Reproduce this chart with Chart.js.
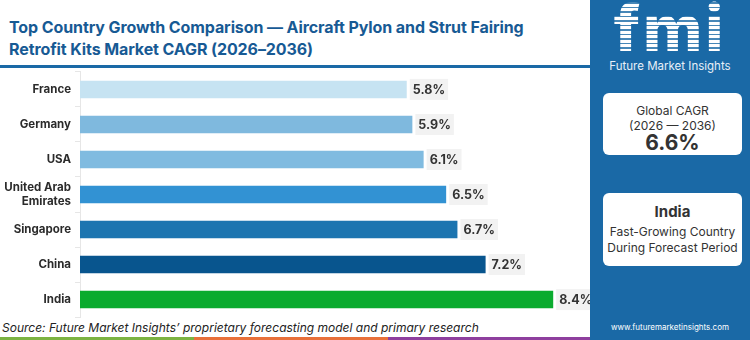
<!DOCTYPE html>
<html>
<head>
<meta charset="utf-8">
<script src="https://cdn.jsdelivr.net/npm/chart.js@4"></script>
<style>
  body { margin: 0; width: 750px; height: 340px; overflow: hidden; background: #fff; font-family: Inter, "Noto Sans", sans-serif; }
  #title { position: absolute; left: 9px; top: 16px; width: 580px; color: #175a94; font-weight: 700; font-size: 16px; line-height: 22px; letter-spacing: -0.1px; }
  #rule { position: absolute; left: 0; top: 65px; width: 590px; height: 3px; background: #1a69a6; }
  #chartBox { position: absolute; left: 0; top: 61px; width: 590px; height: 267px; }
  #source { position: absolute; left: 2px; top: 320px; font-size: 12px; font-style: italic; color: #222; }
  .stripe { position: absolute; top: 337px; height: 3px; }
  #panel { position: absolute; left: 590px; top: 0; width: 160px; height: 340px; background: #1a69a6; color: #fff; }
  #logo { position: absolute; left: 0; width: 160px; top: -5px; text-align: center; font-size: 64px; font-weight: 800; line-height: 66px; letter-spacing: 3px;
          background: repeating-linear-gradient(to bottom, #fff 0 3px, rgba(255,255,255,0.2) 3px 4.5px); -webkit-background-clip: text; background-clip: text; color: transparent; }
  #logoSub { position: absolute; left: 0; width: 160px; top: 59px; text-align: center; font-size: 11.5px; color: #e8f0f8; }
  .card { position: absolute; left: 13px; width: 139px; background: #fff; border-radius: 6px; color: #333; text-align: center; }
  #url { position: absolute; left: 0; width: 160px; top: 322px; text-align: center; font-size: 8px; color: #fff; }
</style>
</head>
<body>
<div id="title">Top Country Growth Comparison — Aircraft Pylon and Strut Fairing<br>Retrofit Kits Market CAGR (2026–2036)</div>
<div id="rule"></div>
<div id="source">Source: Future Market Insights’ proprietary forecasting model and primary research</div>
<div class="stripe" style="left:0;width:194px;background:#7cb342"></div>
<div class="stripe" style="left:194px;width:194px;background:#e8703a"></div>
<div class="stripe" style="left:388px;width:202px;background:#8e3f9e"></div>
<div id="chartBox"><canvas id="growthChart"></canvas></div>
<div id="panel">
  <div id="logo">fmi</div>
  <div id="logoSub">Future Market Insights</div>
  <div class="card" style="top:93px;height:62px;">
    <div style="font-size:12px;margin-top:10px;line-height:15px;">Global CAGR</div>
    <div style="font-size:12px;line-height:15px;">(2026 — 2036)</div>
    <div style="font-size:21px;font-weight:700;line-height:20px;">6.6%</div>
  </div>
  <div class="card" style="top:193px;height:73px;">
    <div style="font-size:15px;font-weight:700;margin-top:9px;line-height:19px;">India</div>
    <div style="font-size:12px;line-height:16px;margin-top:3px;">Fast-Growing Country</div>
    <div style="font-size:12px;line-height:16px;">During Forecast Period</div>
  </div>
  <div id="url">www.futuremarketinsights.com</div>
</div>
<script>
const countries = ['France', 'Germany', 'USA', ['United Arab', 'Emirates'], 'Singapore', 'China', 'India'];
const cagr = [5.8, 5.9, 6.1, 6.5, 6.7, 7.2, 8.4];
const barColors = ['#c6e3f2', '#7fb9de', '#80bbe0', '#3292d3', '#1d75b0', '#08558e', '#0aab2e'];

// value label with a grey box at the end of each bar
const valueLabels = {
  id: 'valueLabels',
  afterDatasetsDraw(chart) {
    const ctx = chart.ctx;
    const meta = chart.getDatasetMeta(0);
    ctx.save();
    ctx.font = '700 12.5px Inter, "Noto Sans", sans-serif';
    ctx.textBaseline = 'middle';
    meta.data.forEach((bar, i) => {
      const text = cagr[i].toFixed(1) + '%';
      const w = ctx.measureText(text).width;
      const x = bar.x + 3;
      ctx.fillStyle = '#f2f2f2';
      ctx.fillRect(x, bar.y - 10.5, w + 6, 21);
      ctx.fillStyle = '#333';
      ctx.fillText(text, x + 3, bar.y + 1);
    });
    ctx.restore();
  }
};

new Chart(document.getElementById('growthChart').getContext('2d'), {
  type: 'bar',
  data: {
    labels: countries,
    datasets: [{
      data: cagr,
      backgroundColor: barColors,
      categoryPercentage: 1,
      barPercentage: 0.5
    }]
  },
  options: {
    indexAxis: 'y',
    responsive: true,
    maintainAspectRatio: false,
    animation: false,
    layout: { padding: { top: 0, bottom: 0, right: 3 } },
    plugins: { legend: { display: false }, tooltip: { enabled: false } },
    scales: {
      x: { display: false, min: 0, max: 9 },
      y: {
        afterFit(scale) { scale.width = 80; },
        border: { display: true, color: '#e6e6e6' },
        grid: { drawOnChartArea: false, drawTicks: true, tickLength: 5, color: '#e6e6e6' },
        ticks: { color: '#2b2b2b', padding: 4, font: { family: 'Inter, "Noto Sans", sans-serif', size: 11.5, weight: '700' } }
      }
    }
  },
  plugins: [valueLabels]
});
</script>
</body>
</html>
